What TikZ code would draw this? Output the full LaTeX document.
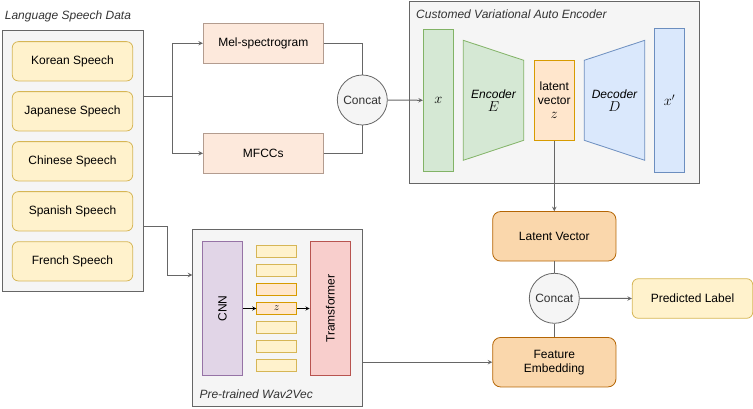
\documentclass[tikz,border=0pt]{standalone}
\usepackage{fontspec}
\setsansfont{Liberation Sans}
\usepackage{tikz}
\usetikzlibrary{arrows,calc,positioning,shapes}
\definecolor{panelfill}{HTML}{F5F5F5}
\definecolor{panelline}{HTML}{666666}
\definecolor{yellowfill}{HTML}{FFF2CC}
\definecolor{yellowline}{HTML}{D6B656}
\definecolor{peachfill}{HTML}{FDE9DC}
\definecolor{peachline}{HTML}{B39C8F}
\definecolor{greenfill}{HTML}{D5E8D4}
\definecolor{greenline}{HTML}{82B366}
\definecolor{orangefill}{HTML}{FFE6CC}
\definecolor{orangeline}{HTML}{D79B00}
\definecolor{bluefill}{HTML}{DAE8FC}
\definecolor{blueline}{HTML}{6C8EBF}
\definecolor{darkorangefill}{HTML}{FAD7AC}
\definecolor{darkorangeline}{HTML}{B46504}
\definecolor{purplefill}{HTML}{E1D5E7}
\definecolor{purpleline}{HTML}{9673A6}
\definecolor{redfill}{HTML}{F8CECC}
\definecolor{redline}{HTML}{B85450}
\newcommand{\labelfont}{\fontsize{12}{14}\selectfont\sffamily}
\newcommand{\mathbig}[1]{{\fontsize{14}{16}\selectfont$#1$}}
\tikzstyle{panel}=[
  draw=panelline,
  fill=panelfill,
  line width=1pt,
  rectangle,
  inner sep=0pt,
]
\tikzstyle{paneltitle}=[
  anchor=west,
  color=black!80,
  font={\labelfont\itshape},
  inner sep=0pt,
]
\tikzstyle{element}=[
  font={\labelfont},
  inner sep=0pt,
  line width=0.8pt,
  rectangle,
  align=center,
]
\tikzstyle{speech}=[
  element,
  draw=yellowline,
  fill=yellowfill,
  minimum width=120.4pt,
  minimum height=39.3pt,
  rounded corners=6pt,
]
\tikzstyle{feature}=[
  element,
  draw=peachline,
  fill=peachfill,
  minimum width=120pt,
  minimum height=40pt,
]
\tikzstyle{result}=[
  element,
  draw=darkorangeline,
  fill=darkorangefill,
  minimum width=123.3pt,
  minimum height=49.5pt,
  rounded corners=8pt,
]
\tikzstyle{merge}=[
  circle,
  draw=panelline,
  fill=panelfill,
  line width=0.8pt,
  minimum size=50pt,
  inner sep=0pt,
  font={\labelfont},
  text=black!80,
]
\tikzstyle{token}=[
  element,
  minimum width=40pt,
  minimum height=12.3pt,
  font={\fontsize{11}{12}\selectfont},
]
\tikzstyle{arrow}=[
  draw=panelline,
  line width=1pt,
]
\tikzset{
  >=stealth,
  x=1pt,
  y=-1pt,
}

\begin{document}
\begin{tikzpicture}
  \useasboundingbox (0,0) rectangle (753,409);
  %% speech data
  \node (speechdata) [panel, minimum width=141pt, minimum height=260pt] at (72.5,161) {};
  \node [paneltitle] at (4.7,16) {Language Speech Data};
  \foreach \lang [count=\i] in {Korean,Japanese,Chinese,Spanish,French}
    \node (speech\i) [speech] at (72.5,11.3+50*\i) {\lang\ Speech};
  %%
  \node (mel) [feature] at (263.3,43.3) {Mel-spectrogram};
  \node (mfcc) [feature] at (263.3,153.3) {MFCCs};
  \node (concatA) [merge] at (362.3,100) {Concat};
  %% VAE
  \node (vae) [panel, minimum width=290pt, minimum height=181.7pt] at (554.3,92.2) {};
  \node [paneltitle] at (416,14.3) {Customed Variational Auto Encoder};
  \node (xin) [element, draw=greenline, fill=greenfill, minimum width=30pt, minimum height=142pt] at (438.3,100.3) {\mathbig{x}};
  \draw [draw=greenline, fill=greenfill, line width=0.8pt]
    (463.3,40.3) -- (523.7,60.3) -- (523.7,140.3) -- (463.3,160.3) -- cycle;
  \node (encoder) [element] at (493.5,100.3) {\itshape Encoder\\[-1pt]\mathbig{E}};
  \node (latent) [element, draw=orangeline, fill=orangefill, minimum width=40.7pt, minimum height=80pt] at (554.3,100.3) {latent\\vector\\\mathbig{z}};
  \draw [draw=blueline, fill=bluefill, line width=0.8pt]
    (584.3,60.3) -- (644.7,40.3) -- (644.7,160.3) -- (584.3,140.3) -- cycle;
  \node (decoder) [element] at (614.5,100.3) {\itshape Decoder\\[-1pt]\mathbig{D}};
  \node (xout) [element, draw=blueline, fill=bluefill, minimum width=30.4pt, minimum height=144pt] at (669.5,100.3) {\mathbig{x'}};
  %% Wav2Vec
  \node (wav2vec) [panel, minimum width=170.4pt, minimum height=176pt] at (277.5,318) {};
  \node [paneltitle] at (199.3,394) {Pre-trained Wav2Vec};
  \node (cnn) [element, draw=purpleline, fill=purplefill, minimum width=40.4pt, minimum height=133.6pt] at (222.5,308.5) {};
  \node [element, rotate=90] at (cnn) {CNN};
  \node (trans) [element, draw=redline, fill=redfill, minimum width=40.7pt, minimum height=133.6pt] at (330.3,308.5) {};
  \node [element, rotate=90] at (trans) {Tramsformer};
  \node (tokA) [token, draw=yellowline, fill=yellowfill] at (276.7,251.2) {};
  \node (tokB) [token, draw=yellowline, fill=yellowfill] at (276.7,270.2) {};
  \node (tokC) [token, draw=orangeline, fill=orangefill] at (276.7,289.3) {};
  \node (zvec) [token, draw=orangeline, fill=orangefill] at (276.7,308.5) {$z$};
  \node (tokE) [token, draw=yellowline, fill=yellowfill] at (276.7,327.3) {};
  \node (tokF) [token, draw=yellowline, fill=yellowfill] at (276.7,346.3) {};
  \node (tokG) [token, draw=yellowline, fill=yellowfill] at (276.7,365.3) {};
  %% outputs
  \node (lvec) [result] at (554.3,236.3) {Latent Vector};
  \node (concatB) [merge] at (554.3,298.3) {Concat};
  \node (pred) [speech, minimum height=39.6pt] at (692.5,298.5) {Predicted Label};
  \node (feat) [result] at (554.3,362.2) {Feature\\Embedding};
  %%
  \coordinate (split) at (172.7,96.7);
  \coordinate (turn) at (167.3,226.7);
  \coordinate (wavin) at (192.3,275);
  \draw [->, arrow] (speechdata.east |- split) -- (split) |- (mel.west);
  \draw [->, arrow] (split) |- (mfcc.west);
  \draw [arrow] (mel.east) -| (concatA.north);
  \draw [arrow] (mfcc.east) -| (concatA.south);
  \draw [->, arrow] (concatA.east) -- (xin.west);
  \draw [->, arrow] (latent.south) -- (lvec.north);
  \draw [arrow] (lvec.south) -- (concatB.north);
  \draw [arrow] (concatB.south) -- (feat.north);
  \draw [->, arrow] (concatB.east) -- (pred.west);
  \draw [->, arrow] (speechdata.east |- turn) -- (turn) |- (wavin);
  \draw [->, arrow] (wav2vec.east |- feat.west) -- (feat.west);
  \draw [->, line width=0.8pt] (cnn.east |- zvec) -- (zvec.west);
  \draw [->, line width=0.8pt] (zvec.east) -- (trans.west |- zvec);
\end{tikzpicture}
\end{document}
